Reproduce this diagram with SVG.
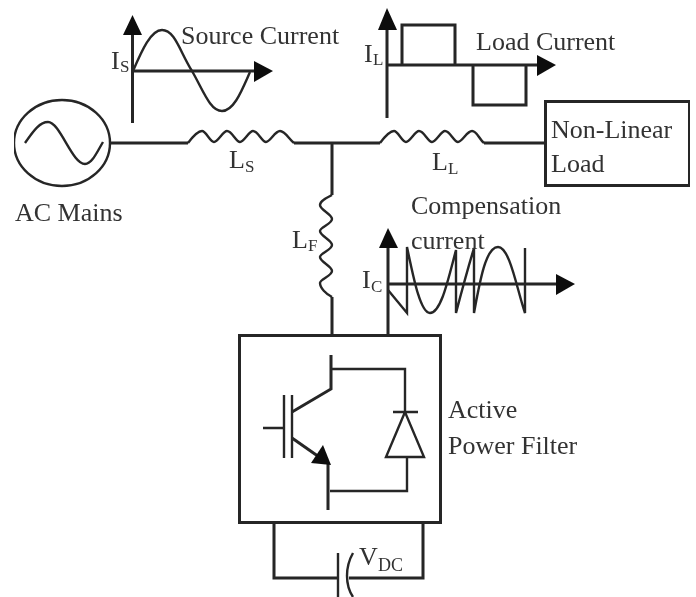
<svg xmlns="http://www.w3.org/2000/svg" width="696" height="597" viewBox="0 0 696 597">
<style>
.w{fill:none;stroke:#262626;stroke-width:3;stroke-linejoin:miter}
.t{fill:none;stroke:#262626;stroke-width:2.4}
.a{fill:#111;stroke:none}
text{font-family:"Liberation Serif","Times New Roman",serif;font-size:26px;fill:#333}
.s{font-size:17px}
</style>
<defs><filter id="b" x="0" y="0" width="100%" height="100%"><feGaussianBlur stdDeviation="0.55"/></filter></defs>
<rect width="696" height="597" fill="#fff"/>
<g filter="url(#b)">
<g id="connectors">
<path class="w" d="M110 143H188M294 143H380M484 143H545M332 143V195M332 297V335M274 523V578H337M349 578H423V523"/>
</g>
<g id="ac-mains">
<ellipse class="t" cx="62" cy="143" rx="48" ry="43"/>
<path class="t" d="M25 143C34 130 40 122 48 122C60 122 72 164 85 164C92 164 97 152 103 142"/>
<text x="15" y="221">AC Mains</text>
</g>
<g id="source-current">
<path class="w" d="M132.500 30V123M133 71H256"/>
<path class="a" d="M132.500 15L142 35H123ZM273 71L254 61V82Z"/>
<path class="t" d="M133 71C142 50 151 30 162 30C175 30 180 52 192 71C203 90 210 111 222 111C234 111 242 90 250 72"/>
<text x="111" y="69">I</text><text class="s" x="120" y="72">S</text>
<text x="181" y="44">Source Current</text>
</g>
<g id="ls">
<path class="t" d="M188 143C194 135 198 131 202 131C206 131 210 142 214 142C218 142 223 131 227 131C232 131 236 142 240 142C244 142 249 131 253 131C258 131 262 142 266 142C270 142 275 131 280 131C285 131 289 139 294 143"/>
<text x="229" y="168">L</text><text class="s" x="245" y="172">S</text>
</g>
<g id="load-current">
<path class="w" d="M387 28V118M387 65H540M402 65V25H455V65M473 65V105H526V65"/>
<path class="a" d="M387 8L397 30H378ZM556 65L537 55V76Z"/>
<text x="364" y="62">I</text><text class="s" x="373" y="65">L</text>
<text x="476" y="50">Load Current</text>
</g>
<g id="ll">
<path class="t" d="M380 143C386 135 390 131 394 131C398 131 402 142 406 142C410 142 415 131 419 131C424 131 428 142 432 142C436 142 441 131 445 131C450 131 454 142 458 142C462 142 467 131 472 131C477 131 479 139 484 143"/>
<text x="432" y="170">L</text><text class="s" x="448" y="174">L</text>
</g>
<g id="non-linear-load">
<rect class="w" x="545.500" y="101.500" width="144" height="84"/>
<text x="551" y="138">Non-Linear</text>
<text x="551" y="172">Load</text>
</g>
<g id="lf">
<path class="t" d="M332 195C326 198 320 201 320 205C320 210 332 214 332 219C332 224 320 227 320 231C320 236 332 240 332 245C332 250 320 253 320 257C320 262 332 266 332 271C332 276 320 279 320 283C320 288 326 294 332 297"/>
<text x="292" y="248">L</text><text class="s" x="308" y="251">F</text>
</g>
<g id="compensation-current">
<path class="w" d="M388 245V335M388 284H558"/>
<path class="a" d="M388 228L398 248H379ZM575 284L556 274V295Z"/>
<path class="t" d="M388 290L407 313V247C413 275 420 313 430 313C441 313 448 280 456 250V313C462 290 468 268 474 248V313C480 280 486 247 498 247C510 247 517 290 525 313V248"/>
<text x="362" y="288">I</text><text class="s" x="371" y="292">C</text>
<text x="411" y="214">Compensation</text>
<text x="411" y="249">current</text>
</g>
<g id="active-power-filter">
<rect class="w" x="239.500" y="335.500" width="201" height="187"/>
<path class="w" d="M331 355V389L292 412M292 438L322 459M328 463V510"/>
<path class="t" d="M284 395V458M292 395V458M263 428H284M331 369H405V412M393 412H418M405 412L386 457H424ZM407 457V491H330"/>
<path class="a" d="M331 465L311 463L323 445Z"/>
<text x="448" y="418">Active</text>
<text x="448" y="454">Power Filter</text>
</g>
<g id="vdc">
<path class="t" d="M338 553V597M353 553C345 567 345 585 353 597"/>
<text x="359" y="565">V</text><text class="s" style="font-size:18px" x="378" y="571">DC</text>
</g>
</g>
</svg>
